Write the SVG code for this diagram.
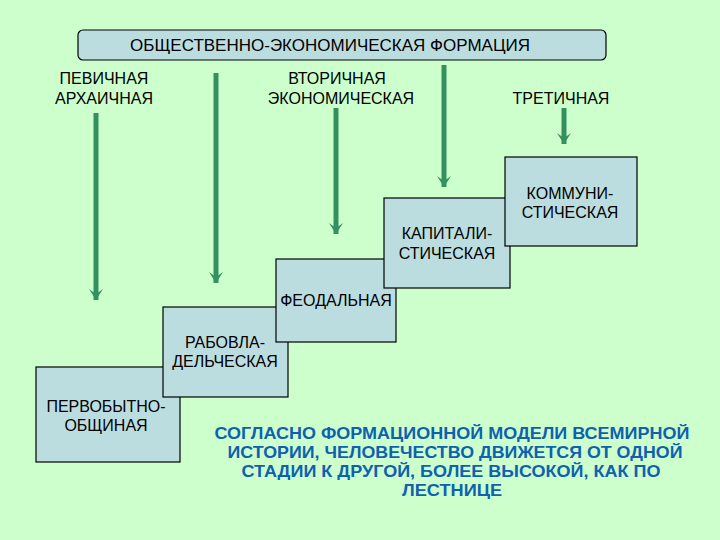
<svg xmlns="http://www.w3.org/2000/svg" width="720" height="540" viewBox="0 0 720 540">
<defs>
<style>
.lbl{font-family:"Liberation Sans",Arial,sans-serif;font-size:16px;fill:#000;text-anchor:middle}
.box{fill:#bcdde0;stroke:#000;stroke-width:1.2}
.arr{stroke:#359060;stroke-width:5;fill:none}
.note{font-family:"Liberation Sans",Arial,sans-serif;font-size:16.5px;font-weight:bold;fill:#1060b0;text-anchor:middle}
</style>
<marker id="ah" viewBox="0 0 11 14" refX="11" refY="7" markerWidth="11" markerHeight="14" markerUnits="userSpaceOnUse" orient="auto">
<path d="M0,0 L5,7 L0,14 L11,7 Z" fill="#359060"/>
</marker>
</defs>
<rect width="720" height="540" fill="#ccffcc"/>
<g id="title">
<rect x="78" y="30" width="528" height="30" rx="5" class="box"/>
<text x="330" y="51" class="lbl" style="font-size:17px">ОБЩЕСТВЕННО-ЭКОНОМИЧЕСКАЯ ФОРМАЦИЯ</text>
</g>
<g id="labels">
<text x="104" y="84" class="lbl">ПЕВИЧНАЯ</text>
<text x="104" y="104" class="lbl">АРХАИЧНАЯ</text>
<text x="337" y="84" class="lbl">ВТОРИЧНАЯ</text>
<text x="341" y="104" class="lbl">ЭКОНОМИЧЕСКАЯ</text>
<text x="561" y="104" class="lbl">ТРЕТИЧНАЯ</text>
</g>
<g id="connectors">
<line x1="96" y1="113" x2="96" y2="300" class="arr" marker-end="url(#ah)"/>
<line x1="216" y1="73" x2="216" y2="283" class="arr" marker-end="url(#ah)"/>
<line x1="336" y1="108" x2="336" y2="234" class="arr" marker-end="url(#ah)"/>
<line x1="444" y1="65" x2="444" y2="187" class="arr" marker-end="url(#ah)"/>
<line x1="564" y1="108" x2="564" y2="144" class="arr" marker-end="url(#ah)"/>
</g>
<g id="n-pervob">
<rect x="36" y="367" width="144" height="95" class="box"/>
<text x="106" y="412" class="lbl">ПЕРВОБЫТНО-</text>
<text x="106" y="431" class="lbl">ОБЩИНАЯ</text>
</g>
<g id="n-rabovl">
<rect x="163" y="307" width="125" height="90" class="box"/>
<text x="225" y="348" class="lbl">РАБОВЛА-</text>
<text x="225" y="367" class="lbl">ДЕЛЬЧЕСКАЯ</text>
</g>
<g id="n-feod">
<rect x="276" y="259" width="120" height="83" class="box"/>
<text x="336" y="306" class="lbl">ФЕОДАЛЬНАЯ</text>
</g>
<g id="n-kapit">
<rect x="384" y="198" width="126" height="90" class="box"/>
<text x="447" y="239" class="lbl">КАПИТАЛИ-</text>
<text x="447" y="259" class="lbl">СТИЧЕСКАЯ</text>
</g>
<g id="n-kommun">
<rect x="505" y="157" width="132" height="89" class="box"/>
<text x="570" y="199" class="lbl">КОММУНИ-</text>
<text x="570" y="218" class="lbl">СТИЧЕСКАЯ</text>
</g>
<g id="note">
<text x="452" y="439" class="note" textLength="475" lengthAdjust="spacingAndGlyphs">СОГЛАСНО ФОРМАЦИОННОЙ МОДЕЛИ ВСЕМИРНОЙ</text>
<text x="455" y="458" class="note" textLength="455" lengthAdjust="spacingAndGlyphs">ИСТОРИИ, ЧЕЛОВЕЧЕСТВО ДВИЖЕТСЯ ОТ ОДНОЙ</text>
<text x="451" y="477" class="note" textLength="419" lengthAdjust="spacingAndGlyphs">СТАДИИ К ДРУГОЙ, БОЛЕЕ ВЫСОКОЙ, КАК ПО</text>
<text x="452" y="496" class="note" textLength="100" lengthAdjust="spacingAndGlyphs">ЛЕСТНИЦЕ</text>
</g>
</svg>
